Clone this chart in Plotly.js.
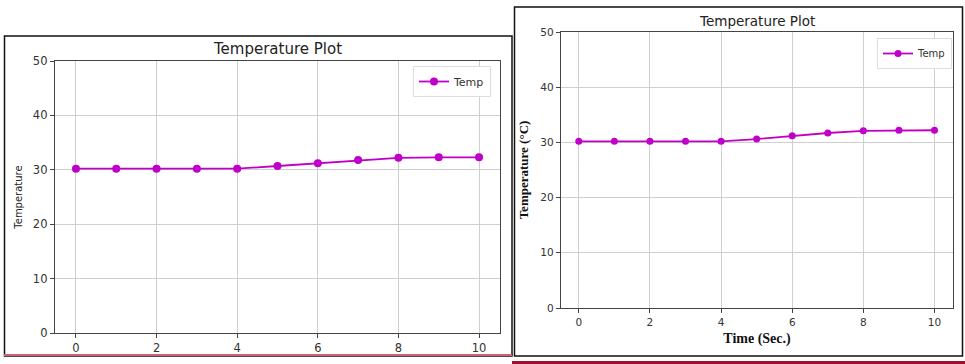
<!DOCTYPE html>
<html>
<head>
<meta charset="utf-8">
<script src="https://cdn.plot.ly/plotly-3.0.1.min.js"></script>
<style>
html,body{margin:0;padding:0;background:#fff;}
#chart{width:965px;height:364px;}
</style>
</head>
<body>
<div id="chart"></div>
<script>
// Data
const timeSec = [0, 1, 2, 3, 4, 5, 6, 7, 8, 9, 10];
const tempLeft = [30.2, 30.2, 30.2, 30.2, 30.2, 30.7, 31.2, 31.8, 32.2, 32.3, 32.3];
const tempRight = [30.2, 30.2, 30.2, 30.2, 30.2, 30.6, 31.2, 31.7, 32.1, 32.2, 32.2];
const xTicks = [0, 2, 4, 6, 8, 10];
const yTicks = [0, 10, 20, 30, 40, 50];
const seriesName = "Temp";
const plotTitle = "Temperature Plot";

const W = 965, H = 364;
const px = v => v / W;
const py = v => 1 - v / H;

const magenta = "#c000c8";
const sans = "DejaVu Sans, sans-serif";
const serif = "Liberation Serif, Times New Roman, serif";

const traces = [
  {x: timeSec, y: tempLeft, name: seriesName, type: "scatter", mode: "lines+markers",
   line: {color: magenta, width: 1.8}, marker: {color: magenta, size: 8},
   xaxis: "x", yaxis: "y", legend: "legend"},
  {x: timeSec, y: tempRight, name: seriesName, type: "scatter", mode: "lines+markers",
   line: {color: magenta, width: 1.8}, marker: {color: magenta, size: 7},
   xaxis: "x2", yaxis: "y2", legend: "legend2"}
];

function axisBase(extra) {
  return Object.assign({
    showline: true, mirror: true, linecolor: "#444", linewidth: 1.2,
    ticks: "outside", ticklen: 4, tickcolor: "#444",
    showgrid: true, gridcolor: "#cfcfcf", gridwidth: 1,
    zeroline: false, fixedrange: true
  }, extra);
}

const layout = {
  width: W, height: H,
  margin: {l: 0, r: 0, t: 0, b: 0, pad: 0},
  paper_bgcolor: "#fff", plot_bgcolor: "#fff",
  showlegend: true,
  xaxis: axisBase({domain: [px(55), px(500)], range: [-0.52, 10.52], tickvals: xTicks,
    tickfont: {family: sans, size: 11.5, color: "#333"}, anchor: "y"}),
  yaxis: axisBase({domain: [py(333), py(61)], range: [0, 50], tickvals: yTicks,
    tickfont: {family: sans, size: 11.5, color: "#333"}, anchor: "x",
    title: {text: "Temperature", font: {family: sans, size: 10, color: "#222"}, standoff: 8}}),
  xaxis2: axisBase({domain: [px(561), px(953)], range: [-0.5, 10.52], tickvals: xTicks,
    tickfont: {family: sans, size: 10.5, color: "#333"}, anchor: "y2",
    title: {text: "<b>Time (Sec.)</b>", font: {family: serif, size: 14, color: "#111"}, standoff: 6}}),
  yaxis2: axisBase({domain: [py(308), py(32)], range: [0, 50], tickvals: yTicks,
    tickfont: {family: sans, size: 10.5, color: "#333"}, anchor: "x2",
    title: {text: "<b>Temperature (°C)</b>", font: {family: serif, size: 13, color: "#111"}, standoff: 8}}),
  legend: {x: px(413), y: py(66), xanchor: "left", yanchor: "top",
    bgcolor: "#fff", bordercolor: "#ddd", borderwidth: 1,
    font: {family: sans, size: 11, color: "#333"}, itemwidth: 30},
  legend2: {x: px(877), y: py(38), xanchor: "left", yanchor: "top",
    bgcolor: "#fff", bordercolor: "#ddd", borderwidth: 1,
    font: {family: sans, size: 10, color: "#333"}, itemwidth: 30},
  annotations: [
    {text: plotTitle, xref: "paper", yref: "paper", x: px(277), y: py(49),
     xanchor: "center", yanchor: "middle", showarrow: false,
     font: {family: sans, size: 15, color: "#222"}},
    {text: plotTitle, xref: "paper", yref: "paper", x: px(757), y: py(21),
     xanchor: "center", yanchor: "middle", showarrow: false,
     font: {family: sans, size: 13.5, color: "#222"}}
  ],
  shapes: [
    // left frame
    {type: "rect", xref: "paper", yref: "paper", x0: px(4.5), x1: px(512), y0: py(356), y1: py(36),
     line: {color: "#111", width: 1.5}},
    {type: "line", xref: "paper", yref: "paper", x0: px(4), x1: px(512), y0: py(355), y1: py(355),
     line: {color: "#d06070", width: 2}},
    // right frame
    {type: "rect", xref: "paper", yref: "paper", x0: px(514.5), x1: px(962.5), y0: py(356), y1: py(7),
     line: {color: "#111", width: 1.5}},
    {type: "line", xref: "paper", yref: "paper", x0: px(512), x1: px(965), y0: py(362.5), y1: py(362.5),
     line: {color: "#a0102e", width: 3}}
  ]
};

Plotly.newPlot("chart", traces, layout, {displayModeBar: false, staticPlot: true});
</script>
</body>
</html>
